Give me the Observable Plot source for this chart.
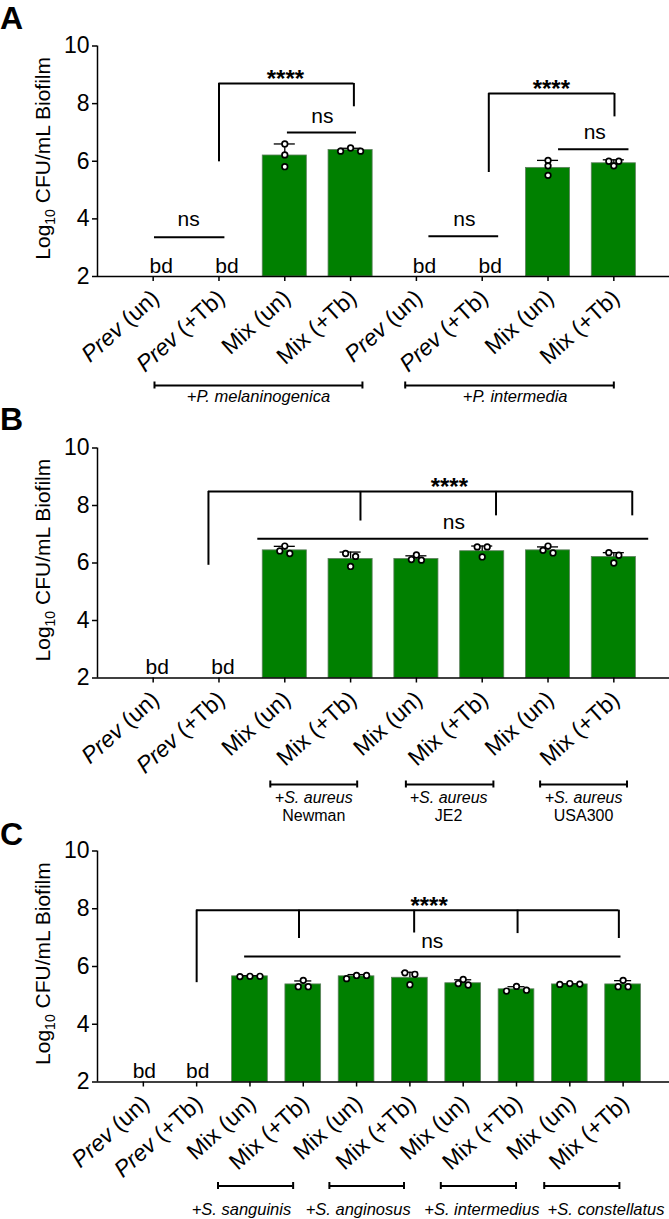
<!DOCTYPE html>
<html>
<head>
<meta charset="utf-8">
<script src="https://cdn.jsdelivr.net/npm/d3@7"></script>
<script src="https://cdn.jsdelivr.net/npm/@observablehq/plot@0.6"></script>
<style>
  html, body { margin: 0; padding: 0; background: #fff; }
  #wrap { position: relative; width: 669px; height: 1219px; overflow: hidden;
          font-family: "Liberation Sans", Arial, Helvetica, sans-serif; }
  .letter { position: absolute; left: 0; font-weight: bold; font-size: 32px; line-height: 36px; }
  .panel { position: absolute; left: 0; }
  .panel svg { overflow: visible; }
</style>
</head>
<body>
<div id="wrap"></div>
<script>
// ================= DATA =================
// Panel A
const catsA = ["Prev (un)", "Prev (+Tb)", "Mix (un)", "Mix (+Tb)", "Prev (un)", "Prev (+Tb)", "Mix (un)", "Mix (+Tb)"];
const meansA = [null, null, 6.20, 6.39, null, null, 5.77, 5.93];
const sdA = [null, null, 0.40, 0.06, null, null, 0.26, 0.12];
const pointsA = [[], [], [6.60, 6.22, 5.81], [6.35, 6.46, 6.35], [], [], [6.03, 5.84, 5.51], [6.00, 6.00, 5.84]];
const groupNamesA = ["+P. melaninogenica", "+P. intermedia"];

// Panel B
const catsB = ["Prev (un)", "Prev (+Tb)", "Mix (un)", "Mix (+Tb)", "Mix (un)", "Mix (+Tb)", "Mix (un)", "Mix (+Tb)"];
const meansB = [null, null, 6.44, 6.14, 6.14, 6.41, 6.44, 6.21];
const sdB = [null, null, 0.14, 0.24, 0.11, 0.18, 0.12, 0.15];
const pointsB = [[], [], [6.59, 6.33, 6.42], [6.33, 6.23, 5.88], [6.28, 6.10, 6.12], [6.56, 6.56, 6.21], [6.59, 6.35, 6.44], [6.36, 6.27, 6.00]];
const groupNamesB = ["+S. aureus", "+S. aureus", "+S. aureus"];
const strainNamesB = ["Newman", "JE2", "USA300"];

// Panel C
const catsC = ["Prev (un)", "Prev (+Tb)", "Mix (un)", "Mix (+Tb)", "Mix (un)", "Mix (+Tb)", "Mix (un)", "Mix (+Tb)", "Mix (un)", "Mix (+Tb)"];
const meansC = [null, null, 5.66, 5.38, 5.66, 5.61, 5.42, 5.21, 5.38, 5.38];
const sdC = [null, null, 0.02, 0.12, 0.06, 0.19, 0.12, 0.09, 0.02, 0.13];
const pointsC = [[], [], [5.65, 5.66, 5.66], [5.52, 5.30, 5.30], [5.58, 5.69, 5.69], [5.78, 5.73, 5.37], [5.55, 5.36, 5.41], [5.15, 5.31, 5.18], [5.39, 5.41, 5.38], [5.52, 5.30, 5.30]];
const groupNamesC = ["+S. sanguinis", "+S. anginosus", "+S. intermedius", "+S. constellatus"];

const yTicks = [2, 4, 6, 8, 10];
const yTitle = "Log10 CFU/mL Biofilm";

// ================= ANNOTATION LAYOUT =================
const layoutA = {
  letter: "A", top: 0, letterTop: 0, height: 410, mt: 45.5, mb: 134, xdom: [-0.846, 7.846], bdDx: 8,
  sig: [
    {label: "ns", x1: 0.02, x2: 1.09, y: 3.36, tx: 0.54, ty: 3.95, legs: []},
    {label: "ns", x1: 2.04, x2: 3.09, y: 7.00, tx: 2.57, ty: 7.54, legs: []},
    {label: "****", x1: 1.00, x2: 3.05, y: 8.70, tx: 2.01, ty: 9.05, legs: [[1.00, 5.98], [3.05, 7.89]]},
    {label: "ns", x1: 4.19, x2: 5.25, y: 3.40, tx: 4.73, ty: 3.95, legs: []},
    {label: "ns", x1: 6.16, x2: 7.23, y: 6.42, tx: 6.71, ty: 6.96, legs: []},
    {label: "****", x1: 5.10, x2: 7.01, y: 8.35, tx: 6.05, ty: 8.70, legs: [[5.10, 5.61], [7.01, 7.54]]}
  ],
  groups: [
    {label: groupNamesA[0], x1: 0.02, x2: 3.18, tx: 1.60},
    {label: groupNamesA[1], x1: 3.83, x2: 7.00, tx: 5.50}
  ],
  groupDy: 109, labelDy: 120.5, subDy: 138, labelSize: 16.5
};
const layoutB = {
  letter: "B", top: 400, letterTop: 401, height: 415, mt: 47.5, mb: 137.5, xdom: [-0.846, 7.846], bdDx: 4,
  sig: [
    {label: "ns", x1: 1.59, x2: 7.53, y: 6.84, tx: 4.57, ty: 7.39, legs: []},
    {label: "****", x1: 0.84, x2: 7.28, y: 8.49, tx: 4.50, ty: 8.85,
     legs: [[0.84, 5.92], [3.15, 7.46], [5.21, 7.64], [7.28, 7.64]]}
  ],
  groups: [
    {label: groupNamesB[0], sub: strainNamesB[0], x1: 1.78, x2: 3.10, tx: 2.44},
    {label: groupNamesB[1], sub: strainNamesB[1], x1: 3.84, x2: 5.17, tx: 4.49},
    {label: groupNamesB[2], sub: strainNamesB[2], x1: 5.88, x2: 7.20, tx: 6.54}
  ],
  groupDy: 106.5, labelDy: 120, subDy: 137.5, labelSize: 16
};
const layoutC = {
  letter: "C", top: 815, letterTop: 816, height: 404, mt: 35.5, mb: 137.5, xdom: [-0.86, 9.87], bdDx: 1,
  sig: [
    {label: "ns", x1: 1.90, x2: 8.96, y: 6.35, tx: 5.42, ty: 6.85, legs: []},
    {label: "****", x1: 1.00, x2: 8.92, y: 7.95, tx: 5.36, ty: 8.30,
     legs: [[1.00, 5.44], [2.92, 6.97], [5.08, 7.16], [7.02, 7.14], [8.92, 6.97]]}
  ],
  groups: [
    {label: groupNamesC[0], x1: 1.40, x2: 2.81, tx: 1.84},
    {label: groupNamesC[1], x1: 3.49, x2: 4.89, tx: 4.03},
    {label: groupNamesC[2], x1: 5.58, x2: 6.99, tx: 6.35},
    {label: groupNamesC[3], x1: 7.52, x2: 8.93, tx: 8.68}
  ],
  groupDy: 104, labelDy: 127.5, subDy: 145, labelSize: 16.5
};

// ================= DRAWING =================
const W = 669, ML = 97, MR = 0;
const FONT = "'Liberation Sans', Arial, Helvetica, sans-serif";
const GREEN = "#008000";
const LABEL_ROT = -42, LABEL_SIZE = 23, LABEL_DX = 2.3, LABEL_DY = 18;

// GraphPad-like scatter spreading: near-equal values share a row, rows are centred
function spread(vals, pxPerY, d) {
  const sorted = vals.slice().sort((a, b) => b - a);
  const rows = [];
  let row = null;
  for (const v of sorted) {
    if (row && (row[row.length - 1] - v) * pxPerY < 4) row.push(v);
    else { row = [v]; rows.push(row); }
  }
  const out = [];
  for (const r of rows) {
    const n = r.length;
    let order;
    if (n === 1) order = [0];
    else if (n === 2) order = [-d / 2, d / 2];
    else order = d3.range(n).map(j => (j - (n - 1) / 2) * d).sort((a, b) => Math.abs(a) - Math.abs(b) || b - a);
    r.forEach((v, j) => out.push({v, off: order[j]}));
  }
  return out;
}

function makePlot(cats, means, sds, points, L) {
  const n = cats.length;
  const pxX = (W - ML - MR) / (L.xdom[1] - L.xdom[0]);
  const pxY = (L.height - L.mt - L.mb) / 8;
  const bars = means.map((m, i) => ({i, m, sd: sds[i]})).filter(d => d.m != null);
  const bd = means.map((m, i) => ({i, m})).filter(d => d.m == null);
  const pts = [];
  points.forEach((vals, i) => spread(vals, pxY, 10).forEach(p => pts.push({x: i + p.off / pxX, v: p.v})));
  const legs = L.sig.flatMap(s => s.legs.map(([x, yb]) => ({x, yb, y: s.y})));
  const ns = L.sig.filter(s => s.label === "ns");
  const stars = L.sig.filter(s => s.label !== "ns");
  const capHalf = 3.5 / pxY, tickLen = 5 / pxY;
  const caps = L.groups.flatMap(g => [g.x1, g.x2]);
  const idx = d3.range(n);

  const plot = Plot.plot({
    width: W, height: L.height,
    marginLeft: ML, marginRight: MR, marginTop: L.mt, marginBottom: L.mb,
    x: {domain: L.xdom, axis: null},
    y: {domain: [2, 10], axis: null},
    style: {fontFamily: FONT, fontSize: "20px", overflow: "visible", background: "transparent", color: "black"},
    marks: [
      // bars, error bars, points
      Plot.rect(bars, {x1: d => d.i - 0.335, x2: d => d.i + 0.335, y1: () => 2, y2: "m",
        fill: GREEN, stroke: "#5f7f5f", strokeWidth: 0.8}),
      Plot.ruleX(bars, {x: "i", y1: "m", y2: d => d.m + d.sd, stroke: "black", strokeWidth: 1.3}),
      Plot.ruleY(bars, {y: d => d.m + d.sd, x1: d => d.i - 0.16, x2: d => d.i + 0.16, stroke: "black", strokeWidth: 1.3}),
      Plot.dot(pts, {x: "x", y: "v", r: 2.8, fill: "white", stroke: "black", strokeWidth: 1.7}),
      // below detection
      Plot.text(bd, {x: "i", y: () => 2, text: () => "bd", fontSize: 21, dx: L.bdDx, dy: -10.7}),
      // axes
      Plot.ruleY([2], {stroke: "black", strokeWidth: 1.5}),
      Plot.ruleX([L.xdom[0]], {y1: 2, y2: 10, stroke: "black", strokeWidth: 1.5}),
      Plot.axisY(yTicks, {tickSize: 5, tickPadding: 3, fontSize: 23, label: null, strokeWidth: 1.5}),
      Plot.ruleX(idx, {x: d => d, y1: () => 2, y2: () => 2 - tickLen, stroke: "black", strokeWidth: 1.5}),
      Plot.text(idx, {x: d => d, y: () => 2, text: i => cats[i], rotate: LABEL_ROT, textAnchor: "end",
        lineAnchor: "middle", fontSize: LABEL_SIZE, dx: LABEL_DX, dy: LABEL_DY}),
      Plot.text([yTitle], {x: () => L.xdom[0], y: () => 6.1, text: d => d, rotate: -90, dx: -54, fontSize: 21}),
      // significance brackets
      Plot.ruleY(L.sig, {y: "y", x1: "x1", x2: "x2", stroke: "black", strokeWidth: 2}),
      Plot.ruleX(legs, {x: "x", y1: "yb", y2: "y", stroke: "black", strokeWidth: 2}),
      Plot.text(ns, {x: "tx", y: "ty", text: "label", fontSize: 21, dy: -1}),
      Plot.text(stars, {x: "tx", y: "ty", text: "label", fontSize: 24, fontWeight: "bold", dy: 6}),
      // group brackets below the axis
      Plot.ruleY(L.groups, {y: () => 2, x1: "x1", x2: "x2", dy: L.groupDy, stroke: "black", strokeWidth: 2}),
      Plot.ruleX(caps, {x: d => d, y1: () => 2 - capHalf, y2: () => 2 + capHalf, dy: L.groupDy, stroke: "black", strokeWidth: 2}),
      Plot.text(L.groups, {x: "tx", y: () => 2, text: "label", dy: L.labelDy, fontSize: L.labelSize, fontStyle: "italic"}),
      Plot.text(L.groups.filter(g => g.sub), {x: "tx", y: () => 2, text: "sub", dy: L.subDy, fontSize: L.labelSize})
    ]
  });

  // mixed styling: italic "Prev" in category labels, subscript in the axis title
  d3.select(plot).selectAll("text").each(function() {
    const t = this.textContent;
    const sel = d3.select(this);
    if (t.startsWith("Prev")) {
      sel.text(null);
      sel.append("tspan").attr("font-style", "italic").text("Prev");
      sel.append("tspan").text(t.slice(4));
    } else if (t === yTitle) {
      sel.text(null);
      sel.append("tspan").text("Log");
      sel.append("tspan").attr("dy", 5).attr("font-size", 14).text("10");
      sel.append("tspan").attr("dy", -5).text(t.slice(5));
    }
  });
  return plot;
}

function drawPanel(cats, means, sds, points, L) {
  const wrap = document.getElementById("wrap");
  const holder = document.createElement("div");
  holder.className = "panel";
  holder.style.top = L.top + "px";
  holder.appendChild(makePlot(cats, means, sds, points, L));
  wrap.appendChild(holder);
  const letter = document.createElement("div");
  letter.className = "letter";
  letter.style.top = L.letterTop + "px";
  letter.textContent = L.letter;
  wrap.appendChild(letter);
}

drawPanel(catsA, meansA, sdA, pointsA, layoutA);
drawPanel(catsB, meansB, sdB, pointsB, layoutB);
drawPanel(catsC, meansC, sdC, pointsC, layoutC);
</script>
</body>
</html>
